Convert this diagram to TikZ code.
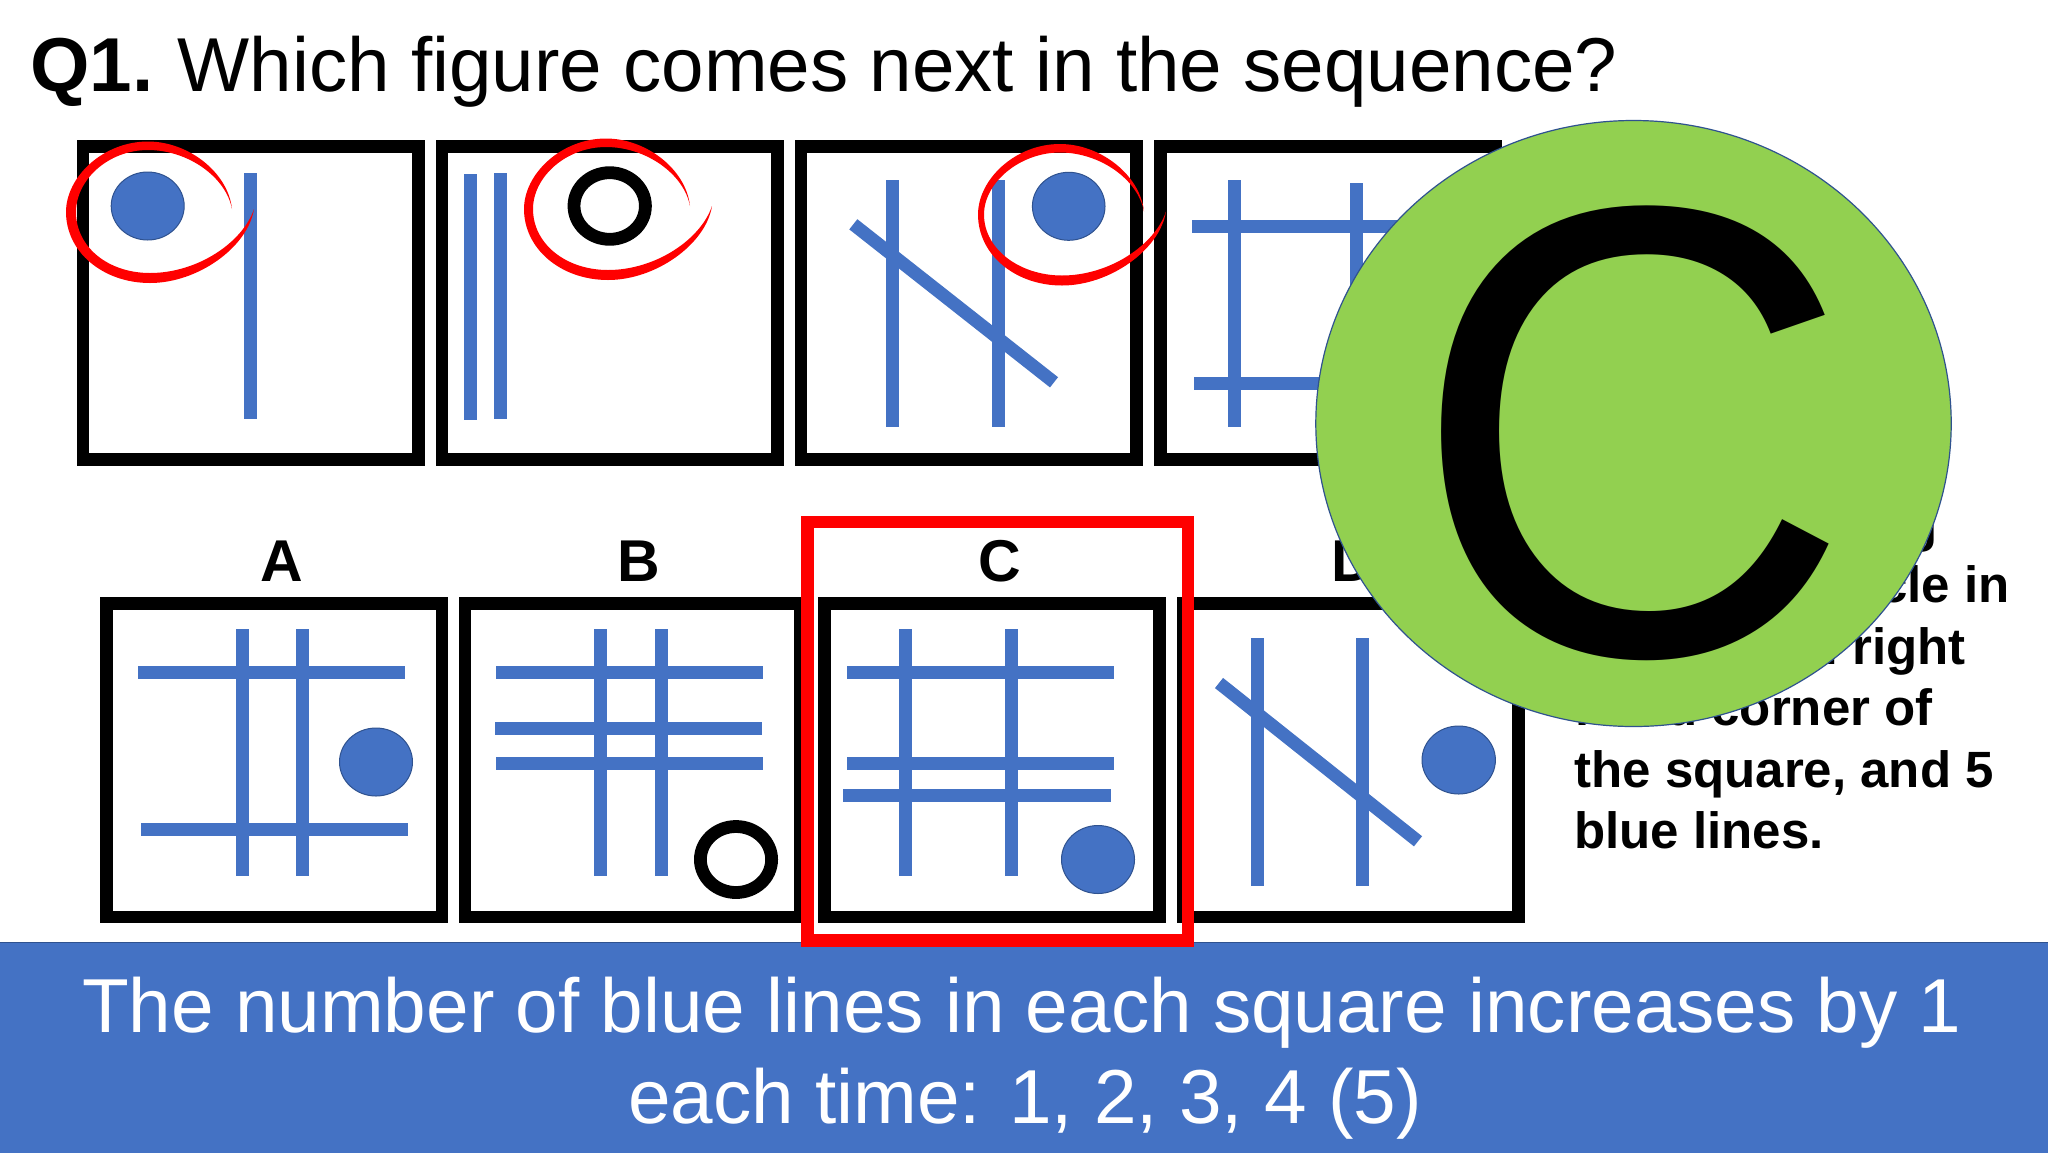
\documentclass[tikz,border=0pt]{standalone}
\usepackage{fontspec}
\setmainfont{Liberation Sans}
\definecolor{bl}{HTML}{4472C4}
\definecolor{bd}{HTML}{2F528F}
\definecolor{gr}{HTML}{92D050}
\begin{document}
\begin{tikzpicture}[x=0.5pt,y=-0.5pt,
  sq/.style={draw=black,line width=6.3pt,fill=white,line join=miter},
  bline/.style={fill=bl},
  dot/.style={fill=bl,draw=bd,line width=0.5pt},
  ring/.style={draw=black,line width=6.4pt,fill=white},
  lab/.style={font=\bfseries\fontsize{29.5}{32}\selectfont,inner sep=0pt},
  side/.style={font=\bfseries\fontsize{25.5}{30}\selectfont,inner sep=0pt},
  band/.style={font=\fontsize{38.25}{46}\selectfont,text=white,inner sep=0pt},
  redmark/.style={fill=red}]
\useasboundingbox (0,0) rectangle (2048,1152);
\fill[white] (0,0) rectangle (2048,1152);
\newcommand{\sw}[3]{\fill[redmark,shift={(#1,#2)}] (84,-3) .. controls (80,-40) and (40,-70.5) .. (0,-70.5)
  .. controls (-45,-70.5) and (-82,-35) .. (-82,0)
  .. controls (-82,40) and (-45,71) .. (2,71)
  .. controls (50,71) and (100,35) .. (106,-3)
  .. controls (95,30) and (50,61) .. (2,61)
  .. controls (-40,61) and (#3,35) .. (#3,0)
  .. controls (#3,-32) and (-40,-62) .. (0,-62)
  .. controls (40,-62) and (78,-35) .. (84,-3) -- cycle;}
\newcommand{\hl}[3]{\fill[bline] (#1,#3) rectangle (#2,#3+13);}
\newcommand{\vl}[3]{\fill[bline] (#1,#2) rectangle (#1+13,#3);}
% title
\node[anchor=base west,inner sep=0pt,font=\fontsize{38.2}{42}\selectfont] (title) at (30,91) {\textbf{Q1.}\kern-2pt{} Which figure comes next in the sequence?};
% top row
\draw[sq] (82.8,146.7) rectangle (418.3,459.7);
\draw[sq] (442,146.7) rectangle (777.5,459.7);
\draw[sq] (801,146.7) rectangle (1136.4,459.7);
\draw[sq] (1160.4,146.7) rectangle (1495.9,459.7);
\draw[dot] (147.7,206) ellipse (36.5 and 34);
\vl{244}{172.7}{419.3}
\vl{464}{174}{420}
\vl{494}{172.7}{419.3}
\draw[ring] (609.7,206) ellipse (35.7 and 33.3);
\vl{886.3}{180}{426.7}
\vl{992}{180}{426.7}
\draw[bl,line width=6.5pt] (853.3,224.3) -- (1054,382.3);
\draw[dot] (1068.7,206.3) ellipse (36.3 and 34);
\vl{1228}{180}{426.5}
\vl{1350}{182.7}{426.5}
\hl{1192}{1459}{219.5}
\hl{1194}{1461}{376.5}
\sw{148}{212}{-72}
\sw{606}{209}{-73}
\sw{1060}{214.5}{-76}
% bottom row
\draw[sq] (106.6,603.6) rectangle (442,917);
\draw[sq] (465.1,603.6) rectangle (800.5,917);
\draw[sq] (824.3,603.6) rectangle (1159.7,917);
\draw[sq] (1183.3,603.6) rectangle (1518.7,917);
\node[lab,anchor=base] (la) at (281.7,581.7) {A};
\node[lab,anchor=base] (lb) at (638.5,581.7) {B};
\node[lab,anchor=base] (lc) at (999.6,581.7) {C};
\node[lab,anchor=base west] (ld) at (1331,581.7) {D};
% A
\vl{236.4}{629}{875.7}\vl{296}{629}{875.7}
\hl{137.5}{404.8}{666}\hl{141}{408.3}{823.3}
\draw[dot] (376,762) ellipse (36.5 and 34);
% B
\vl{594.2}{629}{875.7}\vl{654.5}{629}{875.7}
\hl{496}{763}{666}\hl{494.6}{761.9}{722.3}\hl{496}{763}{757}
\draw[ring] (736,859.5) ellipse (35.6 and 33);
% C
\vl{898.7}{629}{875.7}\vl{1005.3}{629}{875.7}
\hl{846.7}{1114}{666}\hl{846.7}{1114}{757}\hl{843.2}{1110.5}{789}
\draw[dot] (1098,859.5) ellipse (36.5 and 34);
% D
\vl{1251}{638.3}{885.7}\vl{1356.3}{638.3}{885.7}
\draw[bl,line width=6.5pt] (1219,683) -- (1418,841.3);
\draw[dot] (1458.7,760) ellipse (36.7 and 34);
% side text
\node[side,anchor=base east] (s1) at (1938,541) {g};
\node[side,anchor=base east] (s2) at (2010,602.5) {a blue circle in};
\node[side,anchor=base east] (s3) at (1966,664) {bottom right};
\node[side,anchor=base east] (s4) at (1933,725.5) {hand corner of};
\node[side,anchor=base west] (s5) at (1574,787) {the square, and 5};
\node[side,anchor=base west] (s6) at (1574,848) {blue lines.};
% green disc
\draw[fill=gr,draw=bd,line width=0.6pt] (1633.5,423.5) ellipse (317.7 and 303);
\node[anchor=base,inner sep=0pt,font=\fontsize{306}{306}\selectfont] (big) at (1631.5,654) {\scalebox{1}[1.05]{C}};
% red box
\draw[red,line width=6.35pt] (807.4,522) rectangle (1188,940.3);
% band
\draw[fill=bl,draw=bd,line width=0.6pt] (-2,942.3) rectangle (2050,1154);
\draw[red,line width=6.35pt] (801,940.3) -- (1194.3,940.3);
\node[band,anchor=base] (b1) at (1022,1032) {The number of blue lines in each square increases by 1};
\node[band,anchor=base] (b2) at (1025,1123) {each time: 1, 2, 3, 4 (5)};
\end{tikzpicture}
\end{document}
